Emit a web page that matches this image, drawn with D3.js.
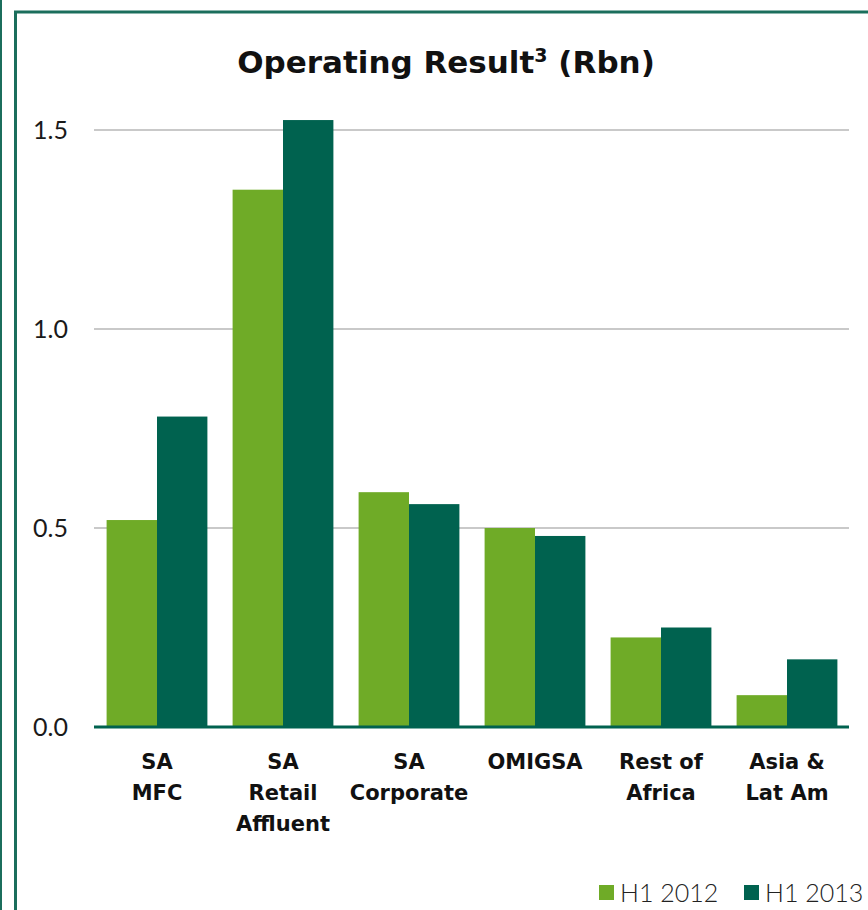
<!DOCTYPE html>
<html>
<head>
<meta charset="utf-8">
<script src="https://cdn.jsdelivr.net/npm/d3@7"></script>
<style>
  html, body { margin: 0; padding: 0; background: #fff; }
  svg { display: block; }
</style>
</head>
<body>
<svg id="chart" width="868" height="910"></svg>
<script>
// ---- data ----
const categories = ["SA\nMFC", "SA\nRetail\nAffluent", "SA\nCorporate", "OMIGSA", "Rest of\nAfrica", "Asia &\nLat Am"];
const seriesNames = ["H1 2012", "H1 2013"];
const h1_2012 = [0.52, 1.35, 0.59, 0.50, 0.225, 0.08];
const h1_2013 = [0.78, 1.525, 0.56, 0.48, 0.25, 0.17];
const yTicks = [0.0, 0.5, 1.0, 1.5];
const seriesColors = ["#6fab27", "#00624f"];

const series = [h1_2012, h1_2013];

const svg = d3.select("#chart");
const frameColor = "#1b6e5c";
const regularFont = "Lato, 'DejaVu Sans', sans-serif";
const boldFont = "'DejaVu Sans', sans-serif";

// background
svg.append("rect").attr("width", 868).attr("height", 910).attr("fill", "#fff");

// panel edge lines
svg.append("line").attr("x1", 1).attr("x2", 1).attr("y1", 0).attr("y2", 910)
  .attr("stroke", frameColor).attr("stroke-width", 2);
svg.append("path").attr("d", "M15.5,910 L15.5,12 L868,12")
  .attr("fill", "none").attr("stroke", frameColor).attr("stroke-width", 3);

// scales
const x0 = d3.scaleBand().domain(categories).range([94, 850]).paddingInner(0.2).paddingOuter(0.1);
const x1 = d3.scaleBand().domain(seriesNames).range([0, x0.bandwidth()]);
const y = d3.scaleLinear().domain([0, 1.5]).range([727, 130]);

// gridlines
svg.append("g").selectAll("line").data(yTicks.filter(d => d > 0)).join("line")
  .attr("x1", 94).attr("x2", 849)
  .attr("y1", d => y(d)).attr("y2", d => y(d))
  .attr("stroke", "#c9c9c9").attr("stroke-width", 2);

// y axis labels
const yAxis = svg.append("g").attr("transform", "translate(94,0)")
  .call(d3.axisLeft(y).tickValues(yTicks).tickFormat(d3.format(".1f")).tickSize(0).tickPadding(26));
yAxis.select(".domain").remove();
yAxis.selectAll("text").attr("font-family", regularFont).attr("font-size", 25)
  .attr("fill", "#1a1a1a").attr("font-weight", 400);

// bars
const groups = svg.append("g").selectAll("g").data(categories).join("g")
  .attr("transform", d => `translate(${x0(d)},0)`);
groups.selectAll("rect").data((d, i) => seriesNames.map((s, j) => ({ s, v: series[j][i], j })))
  .join("rect")
  .attr("x", d => x1(d.s))
  .attr("width", x1.bandwidth())
  .attr("y", d => y(d.v))
  .attr("height", d => y(0) - y(d.v))
  .attr("fill", d => seriesColors[d.j]);

// baseline
svg.append("line").attr("x1", 94).attr("x2", 849).attr("y1", y(0)).attr("y2", y(0))
  .attr("stroke", "#00624f").attr("stroke-width", 3);

// x axis labels
const xAxis = svg.append("g").attr("transform", `translate(0,${y(0)})`)
  .call(d3.axisBottom(x0).tickSize(0).tickFormat(""));
xAxis.select(".domain").remove();
xAxis.selectAll(".tick").each(function(d) {
  const t = d3.select(this).append("text")
    .attr("text-anchor", "middle")
    .attr("font-family", boldFont).attr("font-weight", "bold")
    .attr("font-size", 21).attr("fill", "#111");
  d.split("\n").forEach((line, k) => {
    t.append("tspan").attr("x", 0).attr("y", 42 + k * 31).text(line);
  });
});

// title
const title = svg.append("text").attr("x", 446).attr("y", 73)
  .attr("text-anchor", "middle")
  .attr("font-family", boldFont).attr("font-weight", "bold")
  .attr("font-size", 31).attr("fill", "#111");
title.append("tspan").text("Operating Result");
title.append("tspan").attr("font-size", 19).attr("dy", -11).text("3");
title.append("tspan").attr("dy", 11).text(" (Rbn)");

// legend
const legendX = [599, 744];
const legend = svg.append("g").selectAll("g").data(seriesNames).join("g")
  .attr("transform", (d, i) => `translate(${legendX[i]},885)`);
legend.append("rect").attr("width", 15).attr("height", 15)
  .attr("fill", (d, i) => seriesColors[i]);
legend.append("text").attr("x", 21).attr("y", 16.5)
  .attr("font-family", regularFont).attr("font-size", 25).attr("font-weight", 300)
  .attr("fill", "#222").text(d => d);
</script>
</body>
</html>
